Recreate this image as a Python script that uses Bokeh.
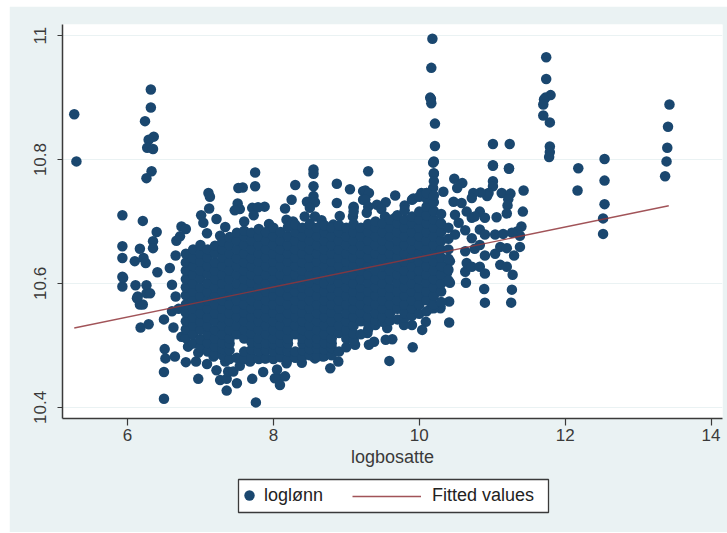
from bokeh.plotting import figure
from bokeh.embed import file_html
from bokeh.resources import INLINE
from bokeh.models import Legend, LegendItem, FixedTicker

series_names = ["loglønn", "Fitted values"]
x_title = "logbosatte"
x_ticks = [6, 8, 10, 12, 14]
y_ticks = [10.4, 10.6, 10.8, 11]
y_tick_labels = {10.4: "10.4", 10.6: "10.6", 10.8: "10.8", 11: "11"}

fit_x = [5.27, 13.42]
fit_y = [10.528, 10.7255]

sparse_x = [5.27,5.30,6.32,6.32,6.24,6.36,6.29,6.27,6.35,6.33,6.26,7.75,7.75,7.58,7.52,8.30,8.55,8.55,8.55,8.55,
 8.87,9.05,7.11,7.13,7.12,5.93,6.21,6.40,5.93,5.93,6.17,6.10,6.22,6.25,6.35,6.35,6.66,7.01,7.22,6.74,6.80,6.72,6.67,
 7.34,7.27,7.04,7.09,7.51,7.54,7.47,7.71,7.88,7.79,7.73,7.60,8.16,8.25,8.46,8.57,8.50,8.43,8.57,8.87,8.91,9.10,9.09,
 9.23,9.23,7.94,8.18,8.27,8.66,8.82,9.30,9.26,9.31,9.67,9.26,9.54,9.42,9.10,9.10,9.30,9.28,9.48,9.53,9.67,9.80,9.92,
 10.03,10.10,10.19,10.20,10.19,10.33,10.48,10.59,10.52,11.01,11.23,11.01,11.01,10.95,10.93,10.84,10.74,10.72,11.13,11.25,
 11.22,11.21,11.43,11.42,11.40,11.34,11.38,11.38,11.30,11.28,11.27,11.26,10.89,10.90,10.64,10.63,10.65,10.72,10.83,10.90,
 11.11,11.20,10.90,11.04,11.11,11.20,10.63,10.76,10.83,11.04,11.15,11.27,10.63,10.72,10.83,10.90,10.47,10.58,10.65,10.72,
 10.83,10.90,11.06,11.20,10.76,10.54,10.49,10.49,10.42,10.42,10.38,10.33,10.41,10.29,10.09,10.41,9.91,9.59,10.09,10.04,
 10.29,10.16,9.90,9.79,9.63,9.54,9.31,9.38,9.56,9.29,9.10,9.12,8.78,8.89,8.39,8.18,8.07,8.16,8.02,8.09,8.57,8.68,8.05,
 6.18,6.29,6.50,6.63,6.51,6.52,6.65,6.80,6.94,6.50,6.50,6.97,7.27,7.36,7.36,7.50,7.71,7.86,7.76,7.09,7.22,7.38,7.45,7.54,
 6.83,6.97,7.18,7.34,7.68,7.88,6.61,6.70,6.17,6.21,6.13,6.26,6.66,5.93,5.93,6.11,6.26,6.41,6.58,6.61,5.94,6.31,6.14,6.74,
 10.18,10.165,10.15,10.16,10.165,10.215,10.215,10.20,10.20,10.20,11.74,11.74,11.80,11.73,11.71,11.70,11.70,11.79,11.79,11.79,
 11.78,12.18,12.17,12.54,12.54,12.54,12.52,12.52,13.43,13.41,13.40,13.39,13.37,11.01,11.24,11.01,11.23]
sparse_y = [10.873,10.797,10.913,10.884,10.862,10.837,10.832,10.819,10.817,10.781,10.770,10.779,10.757,10.755,10.754,10.759,10.784,10.777,10.757,10.741,
 10.761,10.752,10.746,10.740,10.721,10.710,10.701,10.683,10.660,10.641,10.656,10.636,10.641,10.633,10.668,10.657,10.645,10.710,10.704,10.692,10.688,10.676,10.669,
 10.691,10.677,10.698,10.681,10.729,10.720,10.718,10.722,10.724,10.723,10.710,10.700,10.721,10.735,10.732,10.731,10.722,10.708,10.708,10.730,10.709,10.722,10.708,
 10.749,10.735,10.696,10.703,10.700,10.702,10.695,10.781,10.750,10.746,10.742,10.735,10.731,10.727,10.724,10.716,10.724,10.714,10.720,10.708,10.706,10.726,10.737,
 10.746,10.746,10.795,10.778,10.754,10.748,10.769,10.762,10.754,10.790,10.786,10.765,10.757,10.746,10.741,10.747,10.746,10.738,10.746,10.745,
 10.736,10.726,10.750,10.716,10.692,10.684,10.677,10.659,10.645,10.614,10.590,10.569,10.591,10.569,10.601,10.619,10.633,10.627,10.627,10.616,
 10.630,10.627,10.645,10.648,10.659,10.657,10.652,10.656,10.662,10.679,10.680,10.682,10.686,10.673,10.687,10.679,10.732,10.730,10.716,10.706,
 10.716,10.706,10.707,10.713,10.708,10.698,10.679,10.711,10.636,10.601,10.617,10.627,10.571,10.563,10.574,10.537,10.497,10.475,10.538,10.525,
 10.560,10.560,10.533,10.533,10.510,10.509,10.501,10.506,10.528,10.520,10.509,10.501,10.463,10.474,10.472,10.471,10.447,10.450,10.447,10.436,10.479,10.482,10.461,
 10.529,10.534,10.542,10.529,10.494,10.479,10.482,10.473,10.474,10.457,10.414,10.446,10.444,10.446,10.427,10.439,10.446,10.457,10.408,10.470,10.460,10.458,10.458,10.467,
 10.498,10.488,10.482,10.474,10.474,10.479,10.555,10.559,10.566,10.566,10.576,10.584,10.579,10.611,10.595,10.597,10.597,10.618,10.625,10.598,10.609,10.584,10.579,10.514,
 10.995,10.948,10.900,10.898,10.891,10.858,10.822,10.797,10.777,10.765,10.965,10.930,10.904,10.900,10.897,10.889,10.871,10.860,10.821,10.812,
 10.804,10.786,10.750,10.801,10.766,10.728,10.705,10.680,10.889,10.853,10.819,10.797,10.773,10.825,10.825,10.791,10.785]

cloud_x = [6.80,6.90,7.00,7.10,7.20,7.30,7.40,7.50,7.60,7.70,7.80,7.90,8.00,8.10,8.20,8.30,8.40,8.50,8.60,8.70,8.80,8.90,
           9.00,9.10,9.20,9.30,9.40,9.50,9.60,9.70,9.80,9.90,10.00,10.10,10.20,10.30,10.40]
cloud_y = [
 [10.512,10.526,10.539,10.553,10.566,10.581,10.594,10.607,10.621,10.634,10.648],
 [10.503,10.518,10.532,10.545,10.559,10.573,10.587,10.600,10.614,10.628,10.641,10.655],
 [10.497,10.510,10.525,10.538,10.552,10.566,10.579,10.593,10.608,10.621,10.635,10.648,10.662],
 [10.490,10.504,10.518,10.531,10.545,10.559,10.573,10.586,10.600,10.615,10.628,10.642,10.655],
 [10.486,10.498,10.511,10.525,10.539,10.552,10.566,10.580,10.594,10.607,10.621,10.634,10.649,10.661],
 [10.484,10.494,10.504,10.518,10.532,10.546,10.559,10.573,10.587,10.600,10.614,10.628,10.642,10.655,10.668],
 [10.478,10.492,10.503,10.511,10.525,10.539,10.552,10.566,10.580,10.593,10.607,10.621,10.635,10.648,10.662,10.675],
 [10.480,10.518,10.532,10.546,10.559,10.573,10.587,10.600,10.614,10.628,10.641,10.655,10.669,10.682],
 [10.478,10.490,10.511,10.525,10.539,10.553,10.566,10.580,10.594,10.607,10.621,10.634,10.648,10.662,10.676,10.685],
 [10.480,10.493,10.505,10.519,10.532,10.546,10.559,10.573,10.587,10.601,10.614,10.628,10.641,10.655,10.669,10.682],
 [10.478,10.491,10.503,10.511,10.525,10.539,10.552,10.566,10.580,10.594,10.607,10.621,10.635,10.648,10.662,10.676,10.688],
 [10.479,10.492,10.504,10.518,10.532,10.546,10.559,10.573,10.587,10.600,10.614,10.628,10.642,10.655,10.669,10.683],
 [10.478,10.490,10.502,10.511,10.525,10.539,10.553,10.566,10.580,10.593,10.607,10.621,10.635,10.648,10.662,10.676,10.690],
 [10.481,10.493,10.505,10.518,10.532,10.546,10.560,10.573,10.587,10.601,10.614,10.628,10.642,10.655,10.669,10.683],
 [10.478,10.491,10.503,10.511,10.525,10.539,10.552,10.566,10.580,10.594,10.607,10.621,10.635,10.648,10.662,10.676,10.691],
 [10.480,10.490,10.518,10.532,10.546,10.559,10.573,10.587,10.600,10.614,10.628,10.642,10.655,10.669,10.683,10.695],
 [10.482,10.492,10.503,10.511,10.525,10.539,10.553,10.566,10.580,10.593,10.607,10.621,10.634,10.648,10.662,10.676,10.690],
 [10.484,10.494,10.505,10.518,10.532,10.546,10.560,10.573,10.587,10.601,10.614,10.628,10.642,10.655,10.669,10.683,10.696],
 [10.482,10.495,10.503,10.511,10.525,10.539,10.552,10.566,10.580,10.594,10.607,10.621,10.635,10.648,10.662,10.676,10.690],
 [10.483,10.493,10.504,10.518,10.532,10.546,10.559,10.573,10.587,10.600,10.614,10.628,10.641,10.655,10.669,10.683,10.694],
 [10.484,10.496,10.503,10.511,10.525,10.539,10.553,10.566,10.580,10.593,10.607,10.621,10.635,10.648,10.662,10.676,10.690],
 [10.490,10.520,10.532,10.546,10.560,10.573,10.587,10.601,10.614,10.628,10.642,10.655,10.669,10.683,10.694],
 [10.497,10.511,10.525,10.539,10.552,10.566,10.580,10.594,10.607,10.621,10.635,10.648,10.662,10.676,10.690],
 [10.508,10.519,10.532,10.546,10.559,10.573,10.587,10.600,10.614,10.628,10.642,10.655,10.669,10.683,10.696],
 [10.518,10.539,10.553,10.566,10.580,10.593,10.607,10.621,10.635,10.648,10.662,10.676,10.690],
 [10.526,10.534,10.546,10.560,10.573,10.587,10.601,10.614,10.628,10.642,10.655,10.669,10.683,10.696],
 [10.533,10.540,10.552,10.566,10.580,10.594,10.607,10.621,10.635,10.648,10.662,10.676,10.690,10.700],
 [10.538,10.546,10.559,10.573,10.587,10.600,10.614,10.628,10.641,10.655,10.669,10.683,10.697],
 [10.540,10.552,10.566,10.580,10.593,10.607,10.621,10.635,10.648,10.662,10.676,10.690,10.703],
 [10.542,10.559,10.573,10.587,10.601,10.614,10.628,10.642,10.655,10.669,10.683,10.697,10.710],
 [10.545,10.552,10.566,10.580,10.594,10.607,10.621,10.635,10.648,10.662,10.676,10.690,10.703,10.718],
 [10.548,10.559,10.573,10.587,10.600,10.614,10.628,10.642,10.655,10.669,10.683,10.697,10.708,10.735],
 [10.551,10.566,10.580,10.593,10.607,10.621,10.635,10.648,10.662,10.676,10.690,10.703,10.716,10.740],
 [10.555,10.573,10.587,10.601,10.614,10.628,10.642,10.655,10.669,10.683,10.697,10.710,10.724,10.737,10.746],
 [10.560,10.566,10.580,10.594,10.607,10.621,10.635,10.648,10.662,10.676,10.690,10.703,10.717,10.731,10.742],
 [10.570,10.587,10.600,10.614,10.628,10.642,10.655,10.669,10.683,10.697,10.712],
 [10.605,10.622,10.640,10.655,10.672,10.690],
]

NAVY = "#1a476f"
MAROON = "#90353b"
BG = "#eaf2f3"
INK = "#3a3a3a"
FONT = "Liberation Sans"

xs = list(sparse_x)
ys = list(sparse_y)
for cx, col in zip(cloud_x, cloud_y):
    xs += [cx] * len(col)
    ys += col

p = figure(width=718, height=466, output_backend="svg", toolbar_location=None,
           x_range=(5.109, 14.157), y_range=(10.382, 11.018),
           min_border_left=53, min_border_right=5, min_border_top=18, min_border_bottom=54,
           background_fill_color="white", border_fill_color=BG, outline_line_color=None,
           styles={"position": "absolute", "left": "9px", "top": "6px"})

p.scatter(xs, ys, size=10.5, color=NAVY, line_width=0)
p.line(fit_x, fit_y, line_color=MAROON, line_width=1.4, line_alpha=0.85)

p.xgrid.visible = False
p.ygrid.grid_line_color = BG
p.ygrid.grid_line_width = 1
p.ygrid.ticker = FixedTicker(ticks=y_ticks)

p.xaxis.ticker = FixedTicker(ticks=x_ticks)
p.yaxis.ticker = FixedTicker(ticks=y_ticks)
p.yaxis.major_label_overrides = y_tick_labels
p.yaxis.major_label_orientation = "vertical"
p.xaxis.axis_label = x_title
p.xaxis.axis_label_text_font = FONT
p.xaxis.axis_label_text_font_size = "18px"
p.xaxis.axis_label_text_font_style = "normal"
p.xaxis.axis_label_text_color = INK
p.xaxis.axis_label_standoff = 3
for ax in (p.xaxis, p.yaxis):
    ax.major_label_text_font = FONT
    ax.major_label_text_font_size = "17px"
    ax.major_label_text_color = INK
    ax.axis_line_color = INK
    ax.axis_line_width = 1.5
    ax.major_tick_line_color = INK
    ax.major_tick_line_width = 1.2
    ax.minor_tick_line_color = None
    ax.major_tick_in = 0
p.xaxis.major_tick_out = 7
p.yaxis.major_tick_out = 5
p.xaxis.major_label_standoff = 3
p.yaxis.major_label_standoff = 11

# the legend's box is a small figure of its own, because a legend placed outside the main frame is clipped
k = figure(width=718, height=62, output_backend="svg", toolbar_location=None,
           x_range=(0, 1), y_range=(0, 1), x_axis_location=None, y_axis_location=None,
           min_border_left=229, min_border_right=179, min_border_top=9, min_border_bottom=20,
           background_fill_color="white", border_fill_color=BG,
           outline_line_color=INK, outline_line_width=1.3,
           styles={"position": "absolute", "left": "9px", "top": "470px"})
k.xgrid.visible = False
k.ygrid.visible = False
# same series as the chart; their values lie outside this box's ranges, so only the legend keys show
key_dots = k.scatter(sparse_x, sparse_y, size=10.5, color=NAVY, line_width=0)
key_line = k.line(fit_x, fit_y, line_color=MAROON, line_width=1.4, line_alpha=0.85)

def key(renderer, label, x, y, glyph_w, glyph_h, standoff):
    k.add_layout(Legend(items=[LegendItem(label=label, renderers=[renderer])], location=(x, y),
                        glyph_width=glyph_w, glyph_height=glyph_h, label_standoff=standoff,
                        padding=0, margin=0, spacing=0, background_fill_alpha=0, border_line_color=None,
                        label_text_font=FONT, label_text_font_size="18px", label_text_color="#222222"), "center")

key(key_dots, series_names[0], -2, 4, 26, 26, 2)
key(key_line, series_names[1], 114, 6, 69, 20, 11)

open("out.html", "w").write(file_html([p, k], INLINE))
